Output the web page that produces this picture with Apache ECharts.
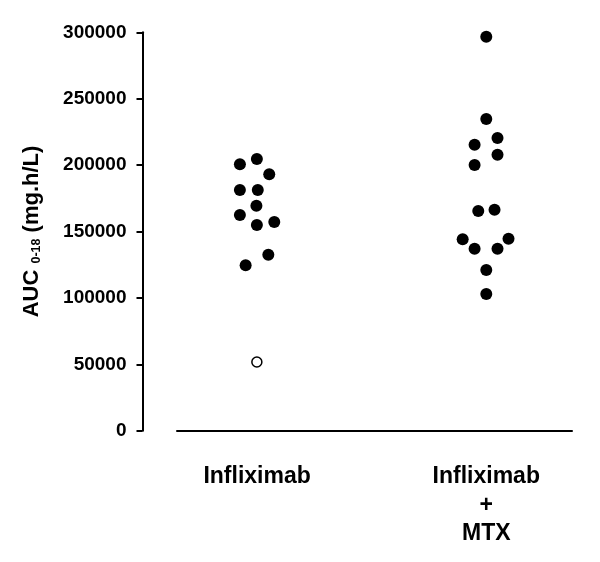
<!DOCTYPE html>
<html>
<head>
<meta charset="utf-8">
<script src="https://cdn.jsdelivr.net/npm/echarts@6/dist/echarts.min.js"></script>
<style>
html,body{margin:0;padding:0;background:#fff;}
#chart{width:600px;height:562px;}
</style>
</head>
<body>
<div id="chart"></div>
<script>
// Categories (x positions 1 and 2)
var categories = ['Infliximab', 'Infliximab\n+\nMTX'];

// Infliximab group (filled circles): x position (with jitter) and AUC value
var inflixX =      [0.999, 0.925, 1.053, 0.925, 1.003, 0.997, 0.925, 1.075, 0.999, 1.049, 0.950];
var inflixValues = [204600, 200600, 193100, 181300, 181300, 169400, 162400, 157200, 154900, 132500, 124500];

// Infliximab group outlier (open circle)
var outlierX = [0.999];
var outlierValues = [51700];

// Infliximab + MTX group (filled circles)
var mtxX =      [2.000, 2.000, 2.049, 1.949, 2.049, 1.949, 2.036, 1.965, 2.097, 1.897, 1.949, 2.049, 2.000, 2.000];
var mtxValues = [296700, 234700, 220400, 215400, 207800, 200100, 166400, 165400, 144600, 144100, 137000, 137000, 121000, 102900];

// Y axis ticks
var yMin = 0, yMax = 300000, yInterval = 50000;

function pairs(xs, ys) {
  return xs.map(function (x, i) { return [x, ys[i]]; });
}

var chart = echarts.init(document.getElementById('chart'), null, {renderer: 'canvas'});
var FONT = '"Liberation Sans", Arial, Helvetica, sans-serif';

chart.setOption({
  animation: false,
  backgroundColor: '#ffffff',
  grid: [
    {left: 142.5, right: 28, top: 32.3, bottom: 131.3},
    {left: 177, right: 28, top: 32.3, bottom: 131.3}
  ],
  xAxis: [
    {
      type: 'value', gridIndex: 0, min: 0.5, max: 2.374, interval: 0.5,
      axisLine: {show: false}, axisTick: {show: false}, splitLine: {show: false},
      axisLabel: {
        show: true, margin: 32, showMinLabel: false, showMaxLabel: false,
        fontFamily: FONT, fontWeight: 'bold', fontSize: 23, color: '#000', lineHeight: 28.5,
        verticalAlign: 'top',
        formatter: function (v) {
          if (Math.abs(v - 1) < 1e-6) return categories[0];
          if (Math.abs(v - 2) < 1e-6) return categories[1];
          return '';
        }
      }
    },
    {
      type: 'value', gridIndex: 1, min: 0, max: 1,
      axisLine: {show: true, lineStyle: {color: '#000', width: 2}},
      axisTick: {show: false}, axisLabel: {show: false}, splitLine: {show: false}
    }
  ],
  yAxis: [
    {
      type: 'value', gridIndex: 0, min: yMin, max: yMax, interval: yInterval,
      axisLine: {show: true, lineStyle: {color: '#000', width: 2}},
      axisTick: {show: true, length: 6, lineStyle: {color: '#000', width: 2}},
      splitLine: {show: false},
      axisLabel: {
        margin: 16, fontFamily: FONT, fontWeight: 'bold', fontSize: 19, color: '#000',
        padding: [6, 0, 0, 0],
        formatter: function (v) { return String(v); }
      },
      name: '{m|AUC }{s|0-18}{m| (mg.h/L)}',
      nameLocation: 'middle', nameRotate: 90, nameGap: 99,
      nameTextStyle: {
        fontFamily: FONT, fontWeight: 'bold', fontSize: 22, color: '#000',
        rich: {
          m: {fontFamily: FONT, fontWeight: 'bold', fontSize: 22, color: '#000'},
          s: {fontFamily: FONT, fontWeight: 'bold', fontSize: 12.5, color: '#000', padding: [11, 0, 0, 0]}
        }
      }
    },
    {
      type: 'value', gridIndex: 1, min: yMin, max: yMax, show: false
    }
  ],
  series: [
    {
      type: 'scatter', xAxisIndex: 0, yAxisIndex: 0,
      data: pairs(inflixX, inflixValues),
      symbol: 'circle', symbolSize: 12,
      itemStyle: {color: '#000', opacity: 1}
    },
    {
      type: 'scatter', xAxisIndex: 0, yAxisIndex: 0,
      data: pairs(outlierX, outlierValues),
      symbol: 'circle', symbolSize: 10,
      itemStyle: {color: '#fff', borderColor: '#000', borderWidth: 1.5, opacity: 1}
    },
    {
      type: 'scatter', xAxisIndex: 0, yAxisIndex: 0,
      data: pairs(mtxX, mtxValues),
      symbol: 'circle', symbolSize: 12,
      itemStyle: {color: '#000', opacity: 1}
    }
  ]
});
</script>
</body>
</html>
